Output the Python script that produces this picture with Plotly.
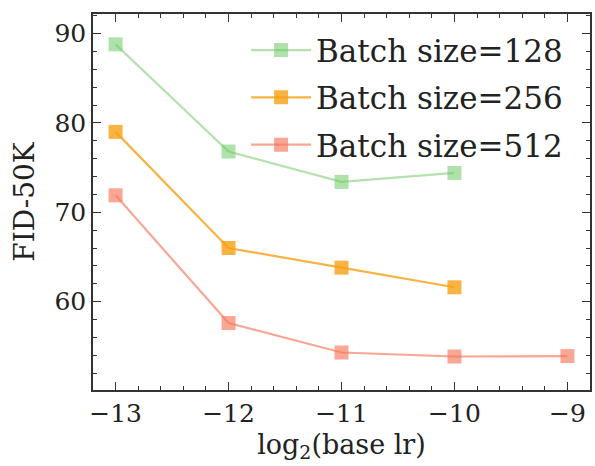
import plotly.graph_objects as go

x_128 = [-13, -12, -11, -10]
fid_128 = [88.8, 76.8, 73.4, 74.4]
x_256 = [-13, -12, -11, -10]
fid_256 = [79.0, 66.0, 63.8, 61.6]
x_512 = [-13, -12, -11, -10, -9]
fid_512 = [71.9, 57.6, 54.3, 53.85, 53.9]
names = ["Batch size=128", "Batch size=256", "Batch size=512"]

line_colors = ["rgba(120,200,110,0.55)", "rgba(245,160,20,0.8)", "rgba(245,120,90,0.65)"]
marker_colors = ["rgba(110,200,100,0.55)", "rgba(248,160,20,0.8)", "rgba(246,120,90,0.65)"]

FONT = "DejaVu Serif"
fig = go.Figure()
for i, (xs, ys, nm, lc, mc) in enumerate(zip([x_128, x_256, x_512], [fid_128, fid_256, fid_512], names, line_colors, marker_colors)):
    fig.add_trace(go.Scatter(
        x=xs, y=ys, name=nm, mode="lines+markers", legendgroup="g%d" % i,
        line=dict(color=lc, width=2.2),
        marker=dict(symbol="square", size=14, color=mc, line=dict(width=0)),
    ))

axis_common = dict(
    showline=True, linecolor="#333333", linewidth=1.5, mirror="ticks",
    ticks="inside", ticklen=8, tickwidth=1.2, tickcolor="#333333",
    showgrid=False, zeroline=False,
    tickfont=dict(family=FONT, size=25, color="#222222"),
)
fig.update_xaxes(
    range=[-13.2, -8.8], tickmode="linear", tick0=-13, dtick=1,
    minor=dict(ticks="inside", ticklen=4, tickcolor="#333333", dtick=0.2, tick0=-13, showgrid=False),
    title=dict(text="log<sub>2</sub>(base lr)", font=dict(family=FONT, size=27, color="#222222"), standoff=8),
    tickformat="d",
    **axis_common,
)
fig.update_yaxes(
    range=[50.1, 92.2], tickmode="array", tickvals=[60, 70, 80, 90],
    minor=dict(ticks="inside", ticklen=4, tickcolor="#333333", dtick=2, tick0=50, showgrid=False),
    title=dict(text="FID-50K", font=dict(family=FONT, size=28, color="#222222"), standoff=12),
    **axis_common,
)
fig.update_layout(
    width=595, height=466,
    margin=dict(l=93, r=3, t=14, b=76),
    paper_bgcolor="white", plot_bgcolor="white",
    showlegend=True,
    legend=dict(
        x=0.308, y=0.975, xanchor="left", yanchor="top",
        bgcolor="rgba(0,0,0,0)",
        font=dict(family=FONT, size=31, color="#222222"),
        itemwidth=60, tracegroupgap=4,
    ),
    font=dict(family=FONT),
)
fig.write_html("out.html")
